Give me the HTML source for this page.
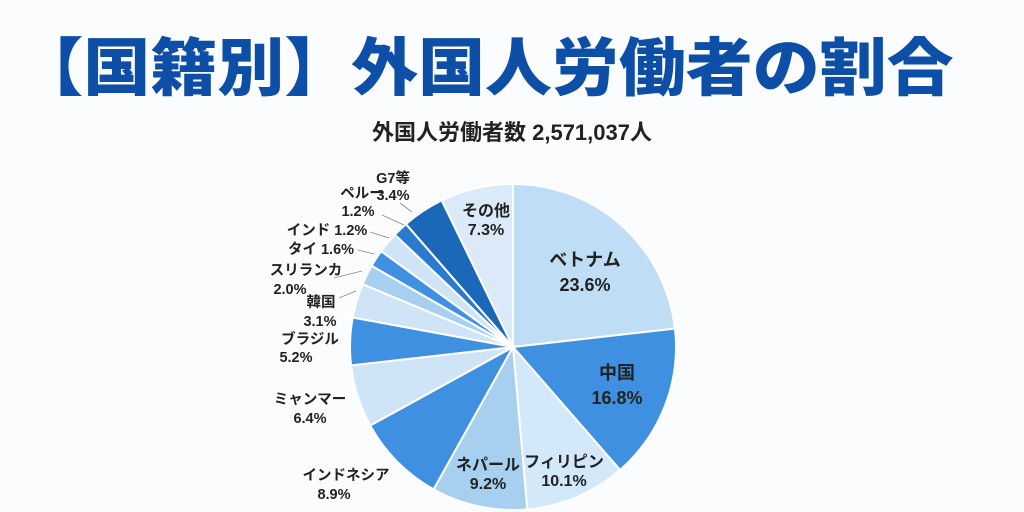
<!DOCTYPE html>
<html><head><meta charset="utf-8"><style>
html,body{margin:0;padding:0;background:#fbfcfd;width:1024px;height:512px;overflow:hidden}
svg{position:absolute;left:0;top:0}
text{font-family:"Liberation Sans","Noto Sans CJK JP",sans-serif;font-weight:bold;fill:#222}
</style></head><body>
<svg id="s" width="1024" height="512" viewBox="0 0 1024 512">
<text x="485" y="90" font-size="63" style="fill:#0d4ea6;font-weight:900" text-anchor="middle" textLength="937" lengthAdjust="spacingAndGlyphs">【国籍別】外国人労働者の割合</text>
<text x="512" y="140" font-size="22" text-anchor="middle">外国人労働者数 2,571,037人</text>
<g id="pie"></g>
<g font-size="18" text-anchor="middle">
<text x="585" y="266">ベトナム</text><text x="585" y="291">23.6%</text>
<text x="617" y="379">中国</text><text x="617" y="404">16.8%</text>
<text x="564" y="467" font-size="16">フィリピン</text><text x="564" y="486" font-size="16">10.1%</text>
<text x="488" y="470" font-size="16">ネパール</text><text x="488" y="489" font-size="16">9.2%</text>
<text x="486" y="216" font-size="16">その他</text><text x="486" y="235" font-size="16">7.3%</text>
</g>
<g font-size="14.5" text-anchor="middle">
<text x="393" y="183">G7等</text><text x="393" y="200">3.4%</text>
<text x="362" y="198">ペルー</text><text x="358" y="216">1.2%</text>
<text x="327" y="235">インド 1.2%</text>
<text x="321" y="254">タイ 1.6%</text>
<text x="306" y="275">スリランカ</text><text x="290" y="294">2.0%</text>
<text x="321" y="307">韓国</text><text x="320" y="326">3.1%</text>
<text x="310" y="344">ブラジル</text><text x="296" y="362">5.2%</text>
<text x="310" y="404">ミャンマー</text><text x="310" y="423">6.4%</text>
<text x="346" y="480">インドネシア</text><text x="334" y="499">8.9%</text>
</g>
<g stroke="#888" stroke-width="0.8" fill="none">
<polyline points="400,203 412,212"/>
<polyline points="382,215 404,225"/>
<polyline points="370,232 389,238"/>
<polyline points="358,250 374,254"/>
<polyline points="334,278 362,271"/>
<polyline points="339,298 356,291"/>
</g>
</svg>
<script>
var b=[0,23.2,38.6,48.6,58.1,67.0,73.2,77.9,81.3,83.3,85.0,87.1,88.6,92.8,100];
var c=["#bfdef5","#3f90e0","#d3e8f8","#a6cff0","#3f90e0","#cfe5f7","#3f90e0","#cfe5f7","#a6cff0","#3f90e0","#cfe5f7","#2a7bd0","#1b67b8","#dbeaf8"];
var cx=513,cy=347,r=163,g=document.getElementById("pie"),h="";
function p(t){var q=t/100*2*Math.PI;return [cx+r*Math.sin(q),cy-r*Math.cos(q)];}
for(var i=0;i<c.length;i++){var p1=p(b[i]),p2=p(b[i+1]),l=(b[i+1]-b[i])>50?1:0;
h+='<path d="M'+cx+','+cy+'L'+p1[0].toFixed(2)+','+p1[1].toFixed(2)+'A'+r+','+r+' 0 '+l+' 1 '+p2[0].toFixed(2)+','+p2[1].toFixed(2)+'Z" fill="'+c[i]+'" stroke="#fff" stroke-width="2"/>';}
g.innerHTML=h;
</script>
</body></html>
